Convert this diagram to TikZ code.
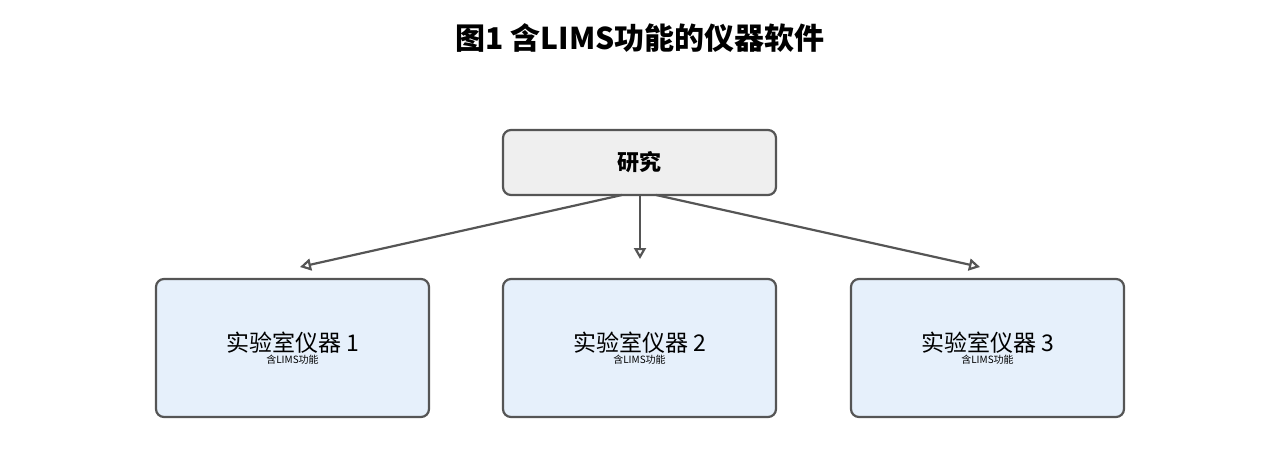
\documentclass[tikz,border=0pt]{standalone}
\usepackage{fontspec}
\setmainfont{Noto Sans CJK SC}
\usetikzlibrary{arrows.meta}
\definecolor{edge}{HTML}{555555}
\definecolor{topfill}{HTML}{EFEFEF}
\definecolor{boxfill}{HTML}{E6F0FB}
\begin{document}
\begin{tikzpicture}[x=1pt,y=-1pt,
  box/.style={draw=edge,line width=2.2pt,rounded corners=8pt,minimum width=273pt,align=center},
  arr/.style={draw=edge,line width=2.2pt,-{Stealth[length=11pt,width=12pt,inset=0pt,open,fill=none]}}]
\useasboundingbox (0,0) rectangle (1280,472);
\node (title) at (640,38) {\fontsize{30}{36}\selectfont\bfseries 图1 含LIMS功能的仪器软件};
\node[box,fill=topfill,minimum height=65pt] (top) at (639.5,162.5) {\fontsize{22}{26}\selectfont\bfseries 研究};
\node[box,fill=boxfill,minimum height=138pt] (b1) at (292.5,348) {\fontsize{23}{30}\selectfont 实验室仪器 1\\含LIMS功能};
\node[box,fill=boxfill,minimum height=138pt] (b2) at (639.5,348) {\fontsize{23}{30}\selectfont 实验室仪器 2\\含LIMS功能};
\node[box,fill=boxfill,minimum height=138pt] (b3) at (987.5,348) {\fontsize{23}{30}\selectfont 实验室仪器 3\\含LIMS功能};
\coordinate (s1) at (622,195); \coordinate (s2) at (640,195); \coordinate (s3) at (656,195);
\coordinate (e1) at (300,267); \coordinate (e2) at (640,259); \coordinate (e3) at (980,267);
\draw[arr] (s1) -- (e1);
\draw[arr] (s2) -- (e2);
\draw[arr] (s3) -- (e3);
\end{tikzpicture}
\end{document}
